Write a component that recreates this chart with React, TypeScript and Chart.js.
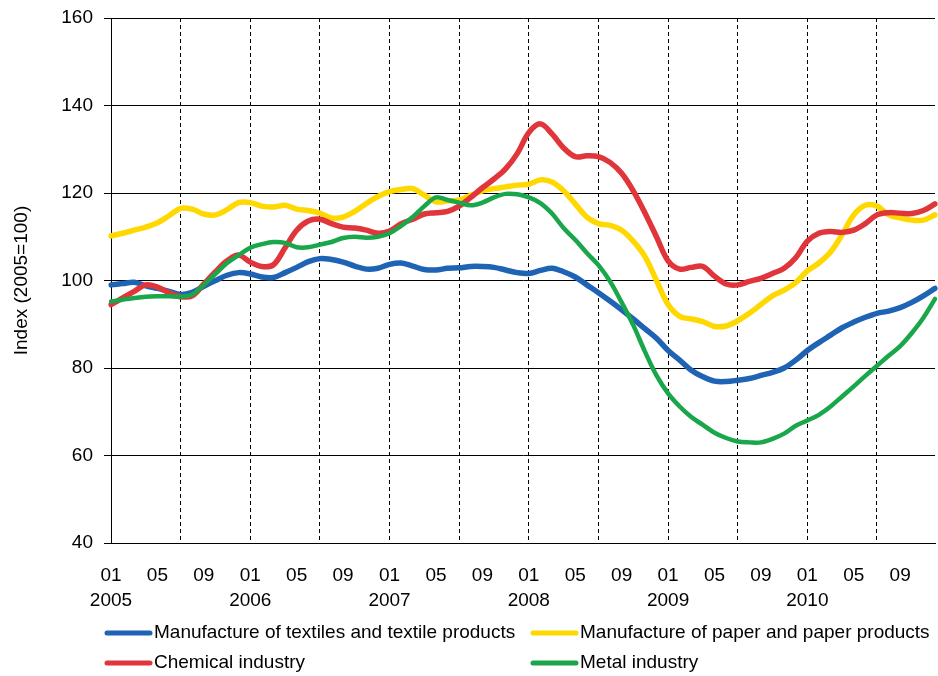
import React, { useEffect, useRef } from 'react';
import { Chart, registerables } from 'chart.js';

Chart.register(...registerables);

const years = ['2005', '2006', '2007', '2008', '2009', '2010'];
const monthCodes = ['01', '02', '03', '04', '05', '06', '07', '08', '09', '10', '11', '12'];
const categories = years.flatMap((y) => monthCodes.map((m) => `${y}-${m}`));
const labeledMonths = ['01', '05', '09'];
const gridMonths = ['01', '07'];

const seriesNames = [
  'Manufacture of textiles and textile products',
  'Manufacture of paper and paper products',
  'Chemical industry',
  'Metal industry',
];
const seriesColors = ['#1f63b5', '#ffd800', '#e0353a', '#1aa64a'];

const textiles = [
  99, 99.3, 99.6, 98.8, 98.2, 97.5, 96.8, 97.3, 98.7, 100, 101.2, 101.8,
  101.5, 100.8, 100.7, 101.8, 103, 104.3, 105, 104.8, 104.2, 103.3, 102.6, 102.8,
  103.7, 104, 103.3, 102.5, 102.4, 102.8, 102.9, 103.2, 103.2, 103, 102.4, 101.8,
  101.6, 102.3, 102.8, 102, 100.8, 99, 97.2, 95.3, 93.3, 91.2, 89, 86.8,
  84, 81.8, 79.5, 78, 77, 76.9, 77.2, 77.6, 78.3, 79, 80, 81.8,
  84, 85.8, 87.5, 89.2, 90.5, 91.6, 92.5, 93, 93.8, 95, 96.5, 98.2,
];

const paper = [
  110.2, 110.8, 111.5, 112.2, 113.2, 114.8, 116.5, 116.3, 115.2, 115, 116.2, 117.8,
  117.8, 117, 116.8, 117.2, 116.3, 116, 115.4, 114.3, 114.5, 115.8, 117.6, 119.2,
  120.3, 120.8, 121, 119.5, 118, 118.2, 118.4, 119.5, 120.5, 121, 121.4, 121.8,
  122, 123, 122.5, 120.5, 117.5, 114.5, 113, 112.6, 111.5, 109, 105.5, 100,
  94.5, 91.8, 91.2, 90.6, 89.5, 89.6, 90.8, 92.5, 94.5, 96.5, 97.8, 99.5,
  102.2, 104, 106.5, 110.5, 115, 117.2, 117, 115, 114.3, 113.8, 113.8, 115,
];

const chemical = [
  94.5, 96, 97.5, 99, 98.5, 97.2, 96.3, 96.5, 99.2, 102, 104.5, 105.8,
  104.2, 103.2, 103.6, 107.5, 111.5, 113.6, 114, 113, 112.2, 112, 111.5, 110.8,
  111.3, 113, 114, 115.2, 115.5, 115.8, 117, 119, 121.2, 123.2, 125.5, 129,
  133.8, 135.8, 133.5, 130.3, 128.3, 128.5, 128.3, 127, 124.5, 120.5, 115.5, 110,
  104.5, 102.6, 103, 103.2, 101, 99.2, 99, 99.8, 100.5, 101.6, 102.8, 105.2,
  109, 110.8, 111.2, 111, 111.5, 113, 115, 115.5, 115.4, 115.3, 116, 117.5,
];

const metal = [
  95.2, 95.6, 96, 96.3, 96.4, 96.4, 96.3, 96.8, 99, 101.5, 104, 105.8,
  107.5, 108.3, 108.8, 108.6, 107.6, 107.6, 108.2, 108.8, 109.7, 110, 109.8, 110,
  110.8, 112.5, 114.5, 117, 119, 118.4, 117.8, 117.2, 117.8, 119, 119.8, 119.7,
  119, 117.7, 115.3, 112, 109.3, 106.3, 103.5, 99.8, 95, 89.8, 83.8, 78.3,
  74.2, 71.2, 68.8, 67, 65.2, 64, 63.2, 63, 63, 63.8, 65, 66.8,
  68, 69.3, 71.2, 73.5, 75.8, 78.2, 80.5, 82.8, 85, 88, 91.5, 95.8,
];

const seriesValues = [textiles, paper, chemical, metal];
const seriesWidths = [5.5, 5.5, 5.5, 4.5];

const FONT = '"Liberation Sans", Arial, sans-serif';

export default function App() {
  const ref = useRef<HTMLCanvasElement>(null);

  useEffect(() => {
    const canvas = ref.current;
    if (!canvas) return;

    const legendPlugin = {
      id: 'customLegend',
      afterDraw(chart: any) {
        const ctx = chart.ctx as CanvasRenderingContext2D;
        const slots = [
          { x: 105, y: 633 },
          { x: 531, y: 633 },
          { x: 105, y: 663 },
          { x: 531, y: 663 },
        ];
        ctx.save();
        ctx.font = `19px ${FONT}`;
        ctx.textBaseline = 'middle';
        ctx.textAlign = 'left';
        slots.forEach((s, i) => {
          ctx.strokeStyle = seriesColors[i];
          ctx.lineWidth = 5;
          ctx.lineCap = 'round';
          ctx.beginPath();
          ctx.moveTo(s.x + 2, s.y);
          ctx.lineTo(s.x + 45, s.y);
          ctx.stroke();
          ctx.fillStyle = '#000';
          ctx.fillText(seriesNames[i], s.x + 49, s.y);
        });
        ctx.restore();
      },
    };

    const chart = new Chart(canvas, {
      type: 'line',
      data: {
        labels: categories,
        datasets: seriesValues.map((vals, i) => ({
          label: seriesNames[i],
          data: vals,
          borderColor: seriesColors[i],
          backgroundColor: seriesColors[i],
          borderWidth: seriesWidths[i],
          pointRadius: 0,
          tension: 0.35,
          borderCapStyle: 'round',
          borderJoinStyle: 'round',
          fill: false,
          order: 4 - i,
        })),
      },
      options: {
        responsive: false,
        animation: false,
        layout: { padding: { top: 18, right: 3, left: 0, bottom: 63 } },
        plugins: {
          legend: { display: false },
          tooltip: { enabled: false },
        },
        scales: {
          x: {
            type: 'category',
            offset: false,
            grid: {
              display: true,
              drawTicks: false,
              lineWidth: 1,
              color: (c: any) => {
                const cat = categories[c.index] || '';
                const m = cat.split('-')[1];
                return c.index > 0 && gridMonths.includes(m) ? '#000' : 'rgba(0,0,0,0)';
              },
            },
            border: { display: true, color: '#000', width: 1, dash: [4, 3] },
            ticks: {
              autoSkip: false,
              maxRotation: 0,
              minRotation: 0,
              padding: 20,
              color: '#000',
              font: { family: FONT, size: 19, lineHeight: 1.32 },
              callback: (_v: any, index: number) => {
                const [y, m] = categories[index].split('-');
                if (!labeledMonths.includes(m)) return '';
                return m === '01' ? [m, y] : m;
              },
            },
            afterFit: (s: any) => {
              s.height = 70;
              s.paddingLeft = 0;
              s.paddingRight = 0;
              s.paddingTop = 0;
              s.paddingBottom = 0;
            },
          },
          y: {
            min: 40,
            max: 160,
            ticks: {
              stepSize: 20,
              padding: 11,
              color: '#000',
              font: { family: FONT, size: 19 },
            },
            grid: {
              color: '#000',
              lineWidth: 1,
              drawTicks: true,
              tickLength: 7,
            },
            border: { display: true, color: '#000', width: 1 },
            title: {
              display: true,
              text: 'Index (2005=100)',
              color: '#000',
              font: { family: FONT, size: 19 },
              padding: { top: 10, bottom: 0 },
            },
            afterFit: (s: any) => {
              s.width = 111;
              s.paddingLeft = 0;
              s.paddingRight = 0;
              s.paddingTop = 0;
              s.paddingBottom = 0;
            },
          },
        },
      },
      plugins: [legendPlugin],
    } as any);

    return () => chart.destroy();
  }, []);

  return (
    <div style={{ position: 'absolute', left: 0, top: 0, width: 938, height: 676 }}>
      <canvas ref={ref} width={938} height={676} style={{ display: 'block', width: 938, height: 676 }} />
    </div>
  );
}
